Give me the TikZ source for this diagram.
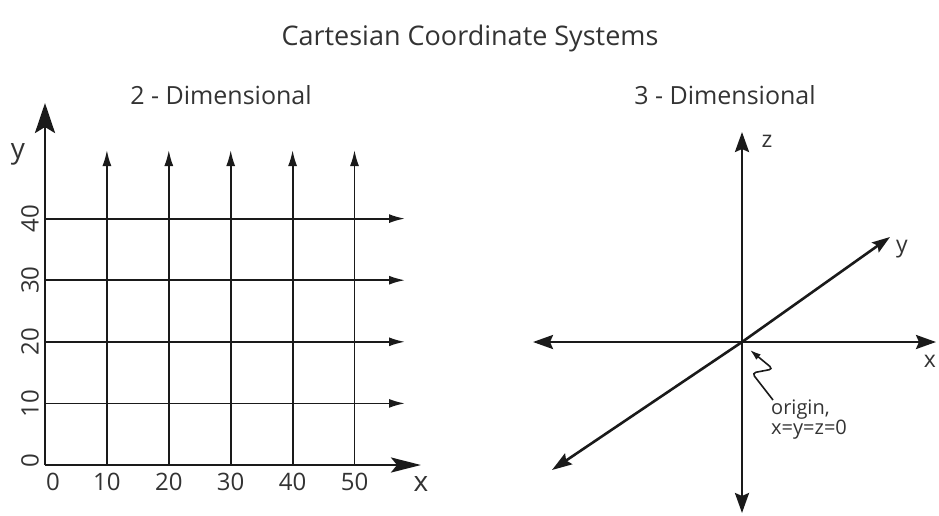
\documentclass[tikz,border=0pt]{standalone}
\usepackage{fontspec}
\setmainfont{Open Sans}
\usetikzlibrary{arrows.meta, positioning}
\definecolor{ink}{HTML}{1A1A1A}
\definecolor{inktext}{HTML}{333333}
\tikzset{
  bigaxis/.style={line width=2.8pt, ink, -{Stealth[length=30pt, width=20pt, inset=6pt]}},
  gridline/.style={line width=1.8pt, ink, -{Latex[length=16pt, width=9pt]}},
  axisthree/.style={line width=2.6pt, ink, {Stealth[length=20pt, width=14pt, inset=3pt]}-{Stealth[length=20pt, width=14pt, inset=3pt]}},
  pointer/.style={line width=1.6pt, ink, rounded corners=4pt, -{Latex[length=11pt, width=7pt]}},
  titletext/.style={font=\fontsize{27}{27}\selectfont, text=inktext, inner sep=0pt},
  headtext/.style={font=\fontsize{25}{25}\selectfont, text=inktext, inner sep=0pt},
  ticklabel/.style={font=\fontsize{24}{24}\selectfont, text=inktext, inner sep=0pt},
  axislabel/.style={font=\fontsize{28}{28}\selectfont, text=inktext, inner sep=0pt},
  axislabelsm/.style={axislabel, font=\fontsize{23}{23}\selectfont},
  notetext/.style={font=\fontsize{20}{20}\selectfont, text=inktext, inner sep=0pt, align=left},
}
\begin{document}
\begin{tikzpicture}[x=1pt, y=-1pt]
\useasboundingbox (0,0) rectangle (939,515);

\node[titletext] (title) at (470,38) {Cartesian Coordinate Systems};
\node[headtext] (head2) at (221,95) {2 - Dimensional};
\node[headtext] (head3) at (725,95) {3 - Dimensional};

% 2-D grid
\coordinate (o2) at (45,465);
\foreach \v [count=\i] in {10,20,30,40,50} {
  \coordinate (gx\i) at ({45+6.19*\v},465);
  \coordinate (gy\i) at (45,{465-6.16*\v});
  \draw[gridline] (gx\i) -- ++(0,-315);
  \node[ticklabel] (tx\i) at ({45+6.19*\v},482) {\v};
}
\foreach \i/\v in {1/10,2/20,3/30,4/40} {
  \draw[gridline] (gy\i) -- ++(360,0);
  \node[ticklabel, rotate=90] (ty\i) at (30,{465-6.16*\v}) {\v};
}
\node[ticklabel] (tx0) at (53,482) {0};
\node[ticklabel, rotate=90] (ty0) at (30,461) {0};
\draw[bigaxis] (o2) -- (45,103) coordinate (ytop);
\draw[bigaxis, -{Stealth[length=30pt, width=15pt, inset=6pt]}] (o2) -- (421,465) coordinate (xend);
\node[axislabel] (ylab) at (18,154) {y};
\node[axislabel] (xlab) at (421,484) {x};

% 3-D axes
\coordinate (o3) at (742,342);
\coordinate (zup) at (742,132);
\coordinate (zdown) at (742,513);
\coordinate (xleft) at (533,342);
\coordinate (xright) at (936,342);
\coordinate (yup) at (890,237);
\coordinate (ydown) at (552,470);
\draw[axisthree] (zdown) -- (zup);
\draw[axisthree] (xleft) -- (xright);
\draw[axisthree, {Stealth[length=20pt, width=13pt, inset=3pt]}-{Stealth[length=18pt, width=12pt, inset=3pt]}] (ydown) -- (o3) -- (yup);
\node[axislabelsm] (zlab) at (767,141) {z};
\node[axislabelsm] (ylab3) at (902,249) {y};
\node[axislabelsm] (xlab3) at (930,361) {x};

\node[notetext, anchor=north west] (orig) at (771,400) {origin,\\x=y=z=0};
\coordinate (otip) at (750,350);
\draw[pointer] ([xshift=2pt]orig.north west) -- ++(-21,-27) -- ++(21,-4) -- (otip);
\end{tikzpicture}
\end{document}
